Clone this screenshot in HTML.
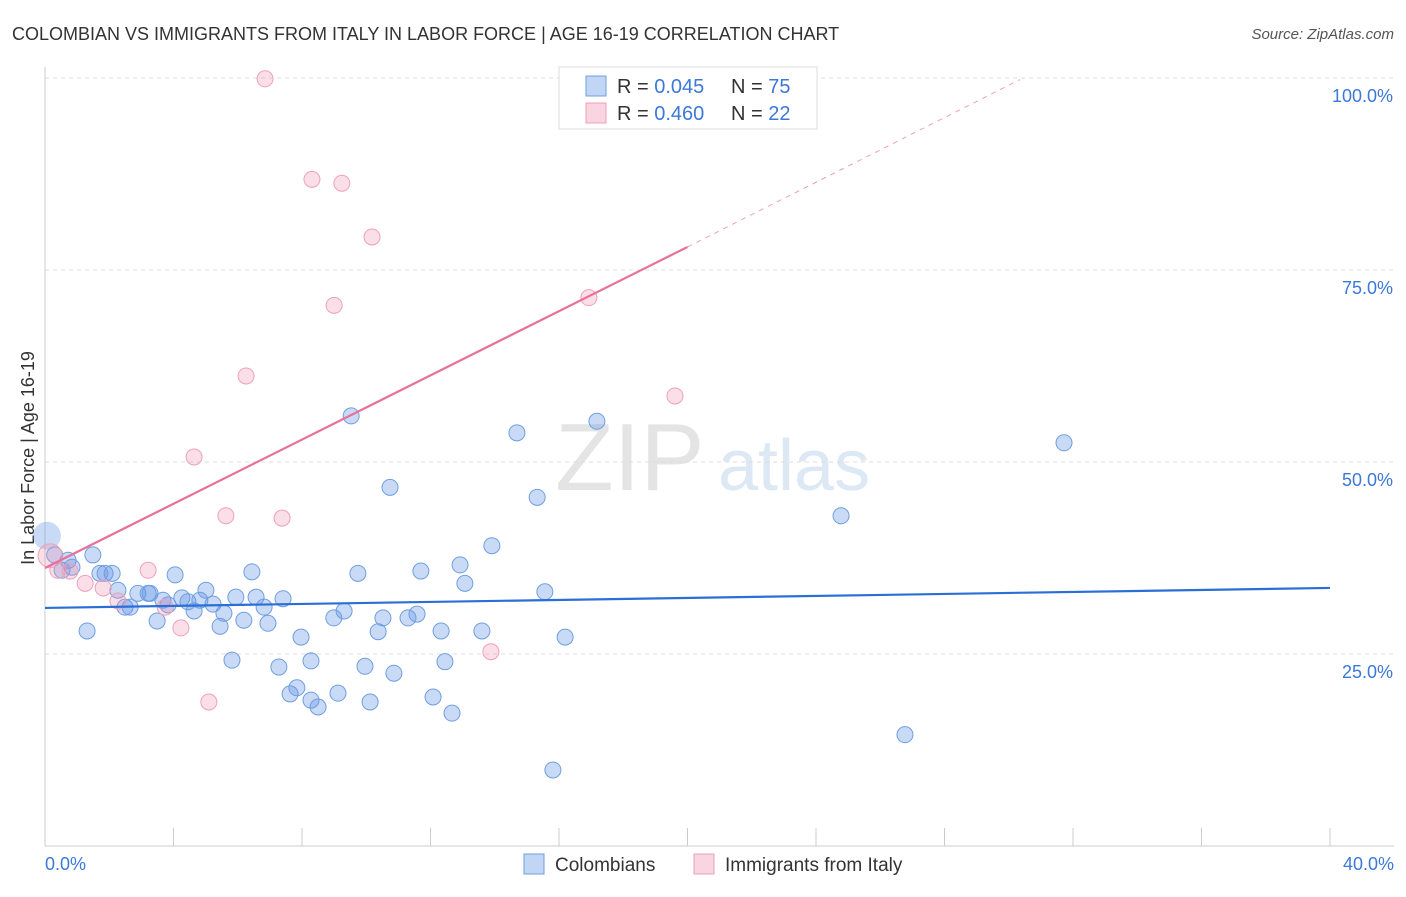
<!DOCTYPE html>
<html><head><meta charset="utf-8"><style>
body{margin:0;background:#fff;font-family:"Liberation Sans",sans-serif;}
svg text{font-family:"Liberation Sans",sans-serif;}
</style></head><body>
<svg id="chart" width="1406" height="892" xmlns="http://www.w3.org/2000/svg">
<text x="12" y="40" font-size="18" fill="#333">COLOMBIAN VS IMMIGRANTS FROM ITALY IN LABOR FORCE | AGE 16-19 CORRELATION CHART</text>
<text x="1394" y="39" font-size="15" fill="#555" font-style="italic" text-anchor="end">Source: ZipAtlas.com</text>
<text x="555" y="490" font-size="96" fill="#e4e4e4" font-family="Liberation Serif">ZIP</text>
<text x="718" y="490" font-size="72" fill="#dde8f5">atlas</text>
<g id="grid"></g>
<line x1="45" y1="67" x2="45" y2="846" stroke="#ccc"/>
<line x1="45" y1="846" x2="1394" y2="846" stroke="#ccc"/>
<text x="34" y="458" font-size="18" fill="#333" text-anchor="middle" transform="rotate(-90 34 458)">In Labor Force | Age 16-19</text>
<text x="45" y="870" font-size="18" fill="#3c78d8">0.0%</text>
<text x="1394" y="870" font-size="18" fill="#3c78d8" text-anchor="end">40.0%</text>
<g id="points"></g>
<g id="trends"></g>
<g>
<rect x="559" y="67" width="258" height="62" fill="#fff" stroke="#ddd"/>
<rect x="586" y="76" width="20" height="20" fill="rgba(100,150,230,0.4)" stroke="#6f9fe0"/>
<text x="617" y="93" font-size="20" fill="#333">R = <tspan fill="#3c78d8">0.045</tspan></text>
<text x="731" y="93" font-size="20" fill="#333">N = <tspan fill="#3c78d8">75</tspan></text>
<rect x="586" y="103" width="20" height="20" fill="rgba(240,150,180,0.4)" stroke="#f0a0b8"/>
<text x="617" y="120" font-size="20" fill="#333">R = <tspan fill="#3c78d8">0.460</tspan></text>
<text x="731" y="120" font-size="20" fill="#333">N = <tspan fill="#3c78d8">22</tspan></text>
</g>
<g>
<rect x="524" y="854" width="20" height="20" fill="rgba(100,150,230,0.4)" stroke="#6f9fe0"/>
<text x="555" y="871" font-size="19" fill="#333">Colombians</text></g>
<g>
<rect x="694" y="854" width="20" height="20" fill="rgba(240,150,180,0.4)" stroke="#f0a0b8"/>
<text x="725" y="871" font-size="19" fill="#333">Immigrants from Italy</text></g>
</svg>
<script>
const yTicks=[25,50,75,100];
const yTickLabels=["25.0%","50.0%","75.0%","100.0%"];
const xTicks=[0,4,8,12,16,20,24,28,32,36,40];
const blueX=[0.06,0.3,0.72,0.84,0.53,1.49,1.87,2.09,1.71,1.31,2.27,2.49,2.65,2.89,3.21,3.27,3.49,3.67,3.83,4.05,4.26,4.45,4.64,4.82,5.01,5.23,5.45,5.57,5.82,5.94,6.19,6.44,6.57,6.82,6.94,7.28,7.41,7.63,7.84,7.97,8.28,8.28,8.5,8.99,9.12,9.31,9.53,9.74,9.96,10.12,10.37,10.52,10.74,10.86,11.3,11.58,11.7,12.08,12.33,12.45,12.67,12.92,13.07,13.6,13.91,14.69,15.32,15.56,15.81,16.19,17.18,24.78,26.77,31.72];
const blueY=[40.4,37.9,37.2,36.3,35.9,37.9,35.5,35.5,35.5,28.0,33.3,31.1,31.1,32.9,32.9,32.9,29.3,32.0,31.4,35.3,32.3,31.8,30.6,32.0,33.3,31.5,28.6,30.3,24.2,32.4,29.4,35.7,32.4,31.1,29.0,23.3,32.2,19.8,20.6,27.2,24.1,19.0,18.1,29.7,19.9,30.6,56.0,35.5,23.4,18.75,27.9,29.7,46.7,22.5,29.7,30.2,35.8,19.4,28.0,24.0,17.3,36.6,34.2,28.0,39.1,53.8,45.4,33.1,9.9,27.2,55.3,43.0,14.5,52.5];
const pinkX=[6.85,8.31,9.24,10.18,9.0,16.93,6.26,4.64,19.61,5.63,7.38,3.21,1.81,1.25,2.27,3.74,4.23,5.1,13.88,0.4,0.78,0.16];
const pinkY=[99.9,86.8,86.3,79.3,70.4,71.4,61.2,50.65,58.6,43.0,42.7,35.9,33.6,34.2,31.9,31.1,28.4,18.75,25.3,35.9,35.8,37.8];
const blueTrend=[[0,31.0],[40,33.6]];
const pinkTrend=[[0,36.2],[20,78.0]];
const pinkTrendExt=[[20,78.0],[30.35,99.8]];
const X=v=>45+v*32.125, Y=v=>846-v*7.68;
const NS="http://www.w3.org/2000/svg";
const grid=document.getElementById('grid');
yTicks.forEach((t,i)=>{
 const l=document.createElementNS(NS,'line');
 l.setAttribute('x1',45);l.setAttribute('x2',1394);l.setAttribute('y1',Y(t));l.setAttribute('y2',Y(t));
 l.setAttribute('stroke','#ddd');l.setAttribute('stroke-dasharray','4,4');
 
 
 grid.appendChild(l);
 const tx=document.createElementNS(NS,'text');
 tx.setAttribute('x',1393);tx.setAttribute('y',Y(t)+24);tx.setAttribute('text-anchor','end');
 tx.setAttribute('font-size','18');tx.setAttribute('fill','#3c78d8');tx.textContent=yTickLabels[i];
 
 
 grid.appendChild(tx);
});
xTicks.forEach(t=>{
 const l=document.createElementNS(NS,'line');
 l.setAttribute('x1',X(t));l.setAttribute('x2',X(t));l.setAttribute('y1',828);l.setAttribute('y2',846);
 l.setAttribute('stroke','#ccc');
 
 
 grid.appendChild(l);
});
const pts=document.getElementById('points');
function dot(x,y,r,fill,stroke,name){
 const c=document.createElementNS(NS,'circle');
 c.setAttribute('cx',X(x));c.setAttribute('cy',Y(y));c.setAttribute('r',r);
 c.setAttribute('fill',fill);c.setAttribute('stroke',stroke);c.setAttribute('stroke-width','1');
 
 
 pts.appendChild(c);
}
blueX.forEach((x,i)=>dot(x,blueY[i],i===0?14:8,'rgba(100,150,230,0.35)',i===0?'none':'#6f9fe0','colombian-point'));
pinkX.forEach((x,i)=>dot(x,pinkY[i],i===21?12:8,'rgba(240,150,180,0.3)','#f0a0b8','italy-point'));
const tr=document.getElementById('trends');
function line(p,color,w,dash,name){
 const l=document.createElementNS(NS,'line');
 l.setAttribute('x1',X(p[0][0]));l.setAttribute('y1',Y(p[0][1]));l.setAttribute('x2',X(p[1][0]));l.setAttribute('y2',Y(p[1][1]));
 l.setAttribute('stroke',color);l.setAttribute('stroke-width',w);if(dash)l.setAttribute('stroke-dasharray',dash);
 
 
 tr.appendChild(l);
}
line(blueTrend,'#2a6fd6',2.2,null,'colombian-trendline');
line(pinkTrend,'#e8709a',2.2,null,'italy-trendline');
line(pinkTrendExt,'#f0a0b8',1,'5,5','italy-trendline-extension');
</script>
</body></html>
